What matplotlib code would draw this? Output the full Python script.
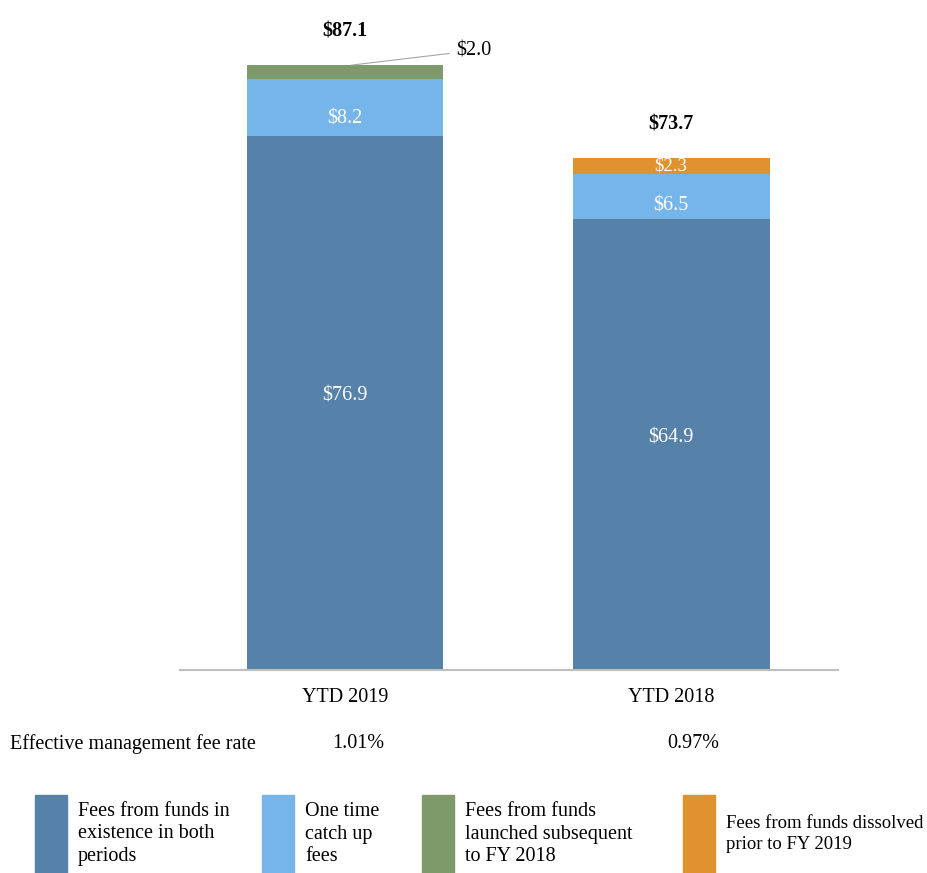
import matplotlib
matplotlib.use('Agg')
import matplotlib.pyplot as plt
from matplotlib.patches import Rectangle

plt.rcParams['font.family'] = ['Liberation Serif', 'DejaVu Serif']

# Data
periods = ['YTD 2019', 'YTD 2018']
existing = [76.9, 64.9]
catch_up = [8.2, 6.5]
launched = [2.0, 0.0]
dissolved = [0.0, 2.3]
totals = [87.1, 73.7]
fee_rates = ['1.01%', '0.97%']
legend_labels = ['Fees from funds in\nexistence in both\nperiods',
                 'One time\ncatch up\nfees',
                 'Fees from funds\nlaunched subsequent\nto FY 2018',
                 'Fees from funds dissolved\nprior to FY 2019']

C_DARK = '#5681A9'
C_LIGHT = '#75B5E9'
C_GREEN = '#7E9A6B'
C_ORANGE = '#E0922F'
FS = 14.5

W, H = 928, 873
fig = plt.figure(figsize=(W / 100, H / 100), dpi=100)
ax = fig.add_axes([180 / W, (H - 670) / H, 658 / W, 650 / H])

x = [0, 1]
bw = 0.604
ax.bar(x, existing, bw, color=C_DARK)
b1 = [e for e in existing]
ax.bar(x, catch_up, bw, bottom=b1, color=C_LIGHT)
b2 = [e + c for e, c in zip(existing, catch_up)]
ax.bar(x, launched, bw, bottom=b2, color=C_GREEN)
b3 = [b + l for b, l in zip(b2, launched)]
ax.bar(x, dissolved, bw, bottom=b3, color=C_ORANGE)

ax.set_xlim(-0.506, 1.512)
ax.set_ylim(0, 93.6)
ax.set_yticks([])
ax.set_xticks(x)
ax.set_xticklabels(periods, fontsize=FS)
ax.tick_params(axis='x', length=0, pad=13)
for s in ['top', 'left', 'right']:
    ax.spines[s].set_visible(False)
ax.spines['bottom'].set_color('#BFBFBF')
ax.spines['bottom'].set_linewidth(1.5)

# segment labels
lab_kw = dict(ha='center', va='center', color='white', fontsize=FS)
for i in range(2):
    ax.text(x[i], existing[i] / 2 + 1, f'${existing[i]:.1f}', **lab_kw)
    ax.text(x[i], existing[i] + catch_up[i] * 0.3, f'${catch_up[i]:.1f}', **lab_kw)
    ax.text(x[i], totals[i] + 4.8, f'${totals[i]:.1f}', ha='center', va='center',
            fontsize=FS, fontweight='bold')
ax.text(x[1], b3[1] + dissolved[1] * 0.5, f'${dissolved[1]:.1f}', ha='center', va='center',
        color='white', fontsize=13.5)
ax.annotate(f'${launched[0]:.1f}', xy=(x[0] + 0.02, b3[0]), xytext=(x[0] + 0.34, b3[0] + 2.1),
            fontsize=FS, ha='left', va='center',
            arrowprops=dict(arrowstyle='-', color='#A6A6A6', lw=0.8, shrinkB=0, shrinkA=3))

# fee rate row
fig.text(10 / W, 1 - 744 / H, 'Effective management fee rate', fontsize=FS, va='center')
fig.text(358 / W, 1 - 744 / H, fee_rates[0], fontsize=FS, va='center', ha='center')
fig.text(693 / W, 1 - 744 / H, fee_rates[1], fontsize=FS, va='center', ha='center')

# legend
colors = [C_DARK, C_LIGHT, C_GREEN, C_ORANGE]
patch_x = [35, 262, 422, 683]
leg_fs = [FS, FS, FS, 13.5]
for px, col, lab, fs in zip(patch_x, colors, legend_labels, leg_fs):
    fig.add_artist(Rectangle((px / W, 0), 32 / W, (H - 795) / H,
                             transform=fig.transFigure, color=col))
    fig.text((px + 43) / W, 1 - 834 / H, lab, fontsize=fs, va='center', ha='left',
             linespacing=1.25)

plt.savefig('out.png', dpi=100)
